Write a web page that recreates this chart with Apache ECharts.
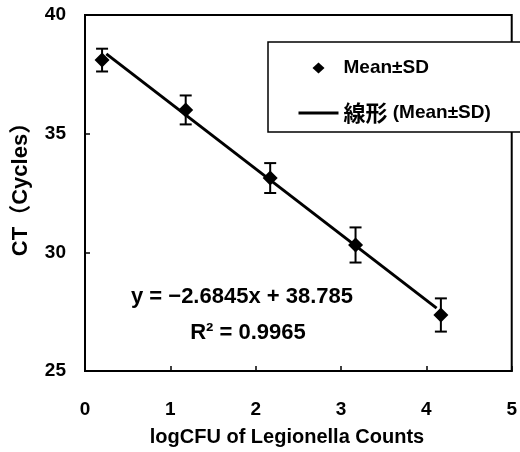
<!DOCTYPE html>
<html>
<head>
<meta charset="utf-8">
<script src="https://cdn.jsdelivr.net/npm/echarts@6/dist/echarts.min.js"></script>
<style>html,body{margin:0;padding:0;background:#fff}#c{width:520px;height:452px}</style>
</head>
<body>
<div id="c"></div>
<script>
// ---- data ----
const xVals = [0.2, 1.18, 2.17, 3.17, 4.17];      // logCFU
const meanCT = [38.1, 36.0, 33.13, 30.31, 27.36];  // Mean CT
const sdCT = [0.48, 0.61, 0.63, 0.74, 0.70];       // SD
const trendX = [0.25, 4.12];                        // fitted line ends
const trendY = [38.36, 27.65];
const xTicks = [0, 1, 2, 3, 4, 5];
const yTicks = [25, 30, 35, 40];
const scatterName = 'Mean±SD';
const lineName = '線形 (Mean±SD)';
const eqText = 'y = −2.6845x + 38.785';
const r2Text = 'R² = 0.9965';
const xName = 'logCFU of Legionella Counts';
const yName = 'CT（Cycles）';

const FONT = "'Liberation Sans', 'Noto Sans CJK JP', sans-serif";
const chart = echarts.init(document.getElementById('c'), null, {renderer: 'canvas'});

const pts = xVals.map((x, i) => [x, meanCT[i]]);
const bars = xVals.map((x, i) => [x, meanCT[i] - sdCT[i], meanCT[i] + sdCT[i]]);
const trend = trendX.map((x, i) => [x, trendY[i]]);

chart.setOption({
  animation: false,
  backgroundColor: '#fff',
  grid: {left: 85, right: 1, top: 15, bottom: 81, show: true, borderColor: '#000', borderWidth: 2, containLabel: false},
  xAxis: {
    type: 'value', min: xTicks[0], max: xTicks[xTicks.length - 1], interval: 1,
    axisLine: {show: true, lineStyle: {color: '#000', width: 2}},
    axisTick: {show: true, inside: true, length: 5, lineStyle: {color: '#000', width: 1.5}},
    axisLabel: {margin: 29, color: '#000', fontSize: 19, fontWeight: 'bold', fontFamily: FONT},
    splitLine: {show: false}
  },
  yAxis: {
    type: 'value', min: yTicks[0], max: yTicks[yTicks.length - 1], interval: 5,
    axisLine: {show: true, lineStyle: {color: '#000', width: 2}},
    axisTick: {show: true, inside: true, length: 5, lineStyle: {color: '#000', width: 1.5}},
    axisLabel: {margin: 19, color: '#000', fontSize: 19, fontWeight: 'bold', fontFamily: FONT},
    splitLine: {show: false}
  },
  legend: {
    data: [
      {name: scatterName, icon: 'path://M0,0M40,11M20,0L26,5.5L20,11L14,5.5Z', itemStyle: {color: '#000', opacity: 1}},
      {name: lineName, itemStyle: {opacity: 0, borderWidth: 0}, lineStyle: {width: 3, color: '#000'}}
    ],
    orient: 'vertical', left: 268, top: 42,
    padding: [16, 40, 8, 29],
    itemWidth: 40, itemHeight: 11, itemGap: 24,
    symbolKeepAspect: true,
    backgroundColor: '#fff', borderColor: '#000', borderWidth: 1.5,
    selectedMode: false,
    formatter: n => n.replace(/([\u3000-\u9fff]+)/g, '{cjk|$1}'),
    textStyle: {
      color: '#000', fontSize: 19, fontWeight: 'bold', fontFamily: FONT, lineHeight: 20,
      rich: {cjk: {fontSize: 22, fontWeight: 'bold', fontFamily: "'Noto Sans CJK JP', sans-serif", color: '#000', lineHeight: 20}}
    }
  },
  series: [
    {
      name: 'SD', type: 'custom', data: bars, encode: {x: 0, y: [1, 2]}, z: 3,
      renderItem: function (params, api) {
        const x = api.value(0), lo = api.value(1), hi = api.value(2);
        const t = api.coord([x, hi]), b = api.coord([x, lo]);
        const hw = 6;
        const st = {stroke: '#000', lineWidth: 2};
        return {type: 'group', children: [
          {type: 'line', shape: {x1: t[0], y1: t[1], x2: b[0], y2: b[1]}, style: st},
          {type: 'line', shape: {x1: t[0] - hw, y1: t[1], x2: t[0] + hw, y2: t[1]}, style: st},
          {type: 'line', shape: {x1: b[0] - hw, y1: b[1], x2: b[0] + hw, y2: b[1]}, style: st}
        ]};
      }
    },
    {
      name: scatterName, type: 'scatter', data: pts, symbol: 'diamond', symbolSize: 15, z: 4,
      itemStyle: {color: '#000', opacity: 1}
    },
    {
      name: lineName, type: 'line', data: trend, showSymbol: false, symbol: 'none', z: 2,
      lineStyle: {color: '#000', width: 3}, itemStyle: {color: '#000'}
    }
  ],
  graphic: [
    {type: 'text', x: 242, y: 297, style: {text: eqText, fill: '#000', font: 'bold 22px ' + FONT, align: 'center', verticalAlign: 'middle'}},
    {type: 'text', x: 248, y: 333, style: {text: r2Text, fill: '#000', font: 'bold 22px ' + FONT, align: 'center', verticalAlign: 'middle'}},
    {type: 'text', x: 287, y: 437, style: {text: xName, fill: '#000', font: 'bold 20px ' + FONT, align: 'center', verticalAlign: 'middle'}},
    {type: 'text', x: 21, y: 184, rotation: Math.PI / 2, style: {text: yName, fill: '#000', font: 'bold 22px ' + FONT, align: 'center', verticalAlign: 'middle'}}
  ]
});
</script>
</body>
</html>
